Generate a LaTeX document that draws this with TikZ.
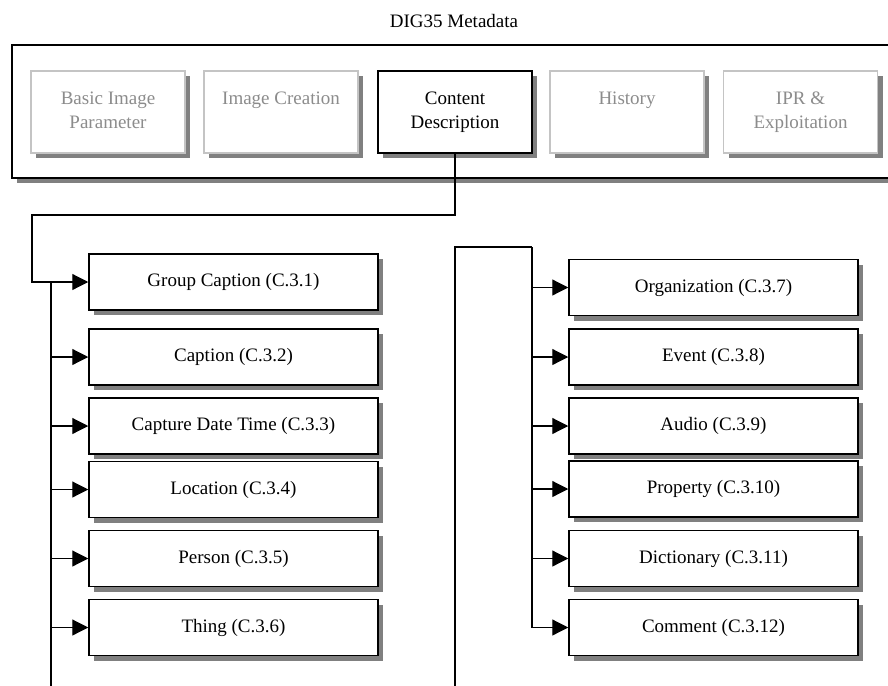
\documentclass[tikz,border=0pt]{standalone}
\usepackage{fontspec}
\setmainfont{Liberation Serif}
\usetikzlibrary{arrows.meta,shadows}

\definecolor{shadowgray}{HTML}{808080}
\definecolor{palegray}{HTML}{C4C4C4}
\definecolor{textgray}{HTML}{8C8C8C}

\tikzset{
  panel/.style={draw, line width=0.75pt, fill=white,
    drop shadow={shadow xshift=2.6pt, shadow yshift=-2.6pt,
      fill=shadowgray, opacity=1}},
  group/.style={panel, minimum width=77pt, minimum height=41pt,
    align=center, inner sep=0pt},
  dimgroup/.style={group, draw=palegray, text=textgray},
  leaf/.style={panel, minimum width=144.5pt, minimum height=28pt,
    inner sep=0pt},
  wire/.style={line width=0.6pt},
  arr/.style={wire, -{Triangle[length=8pt,width=8pt]}}
}

\begin{document}
\begin{tikzpicture}[x=0.5pt, y=-0.5pt, font=\fontsize{9.5}{12}\selectfont]
  \path[use as bounding box] (0,0) rectangle (888,685);
  \clip (0,0) rectangle (888,685);

  \node (title) at (454,21.5) {DIG35 Metadata};

  % outer frame, runs off the right edge
  \draw[panel] (12,45) rectangle (910,178);

  \node[dimgroup] (bip) at (108,112) {Basic Image\strut\\Parameter\strut};
  \node[dimgroup] (ic) at (281,112) {Image Creation\strut\\\strut};
  \node[group] (cd) at (455,112) {Content\strut\\Description\strut};
  \node[dimgroup] (hist) at (627,112) {History\strut\\\strut};
  \node[dimgroup] (ipr) at (800.5,112) {IPR \&\strut\\Exploitation\strut};

  % left column
  \node[leaf] (gc) at (233.5,282) {Group Caption (C.3.1)};
  \node[leaf] (cap) at (233.5,357) {Caption (C.3.2)};
  \node[leaf] (cdt) at (233.5,426) {Capture Date Time (C.3.3)};
  \node[leaf] (loc) at (233.5,489.5) {Location (C.3.4)};
  \node[leaf] (per) at (233.5,558.5) {Person (C.3.5)};
  \node[leaf] (thg) at (233.5,627.5) {Thing (C.3.6)};

  % right column
  \node[leaf] (org) at (713.5,287.5) {Organization (C.3.7)};
  \node[leaf] (evt) at (713.5,357) {Event (C.3.8)};
  \node[leaf] (aud) at (713.5,426) {Audio (C.3.9)};
  \node[leaf] (prp) at (713.5,489) {Property (C.3.10)};
  \node[leaf] (dic) at (713.5,558.5) {Dictionary (C.3.11)};
  \node[leaf] (cmt) at (713.5,627.5) {Comment (C.3.12)};

  \coordinate (jl) at (32,215);
  \coordinate (lbot) at (51,695);
  \coordinate (rtop) at (455,247);
  \coordinate (rbot) at (455,695);
  \coordinate (rknee) at (532,247);

  \draw[arr] (cd.south) |- (jl) |- (gc.west);
  \draw[wire] (lbot |- gc.west) -- (lbot);
  \foreach \n in {cap,cdt,loc,per,thg}
    \draw[arr] (lbot |- \n.west) -- (\n.west);

  \draw[wire] (rbot) -- (rtop) -- (rknee);
  \draw[arr] (rknee) |- (cmt.west);
  \foreach \n in {org,evt,aud,prp,dic}
    \draw[arr] (rknee |- \n.west) -- (\n.west);
\end{tikzpicture}
\end{document}
